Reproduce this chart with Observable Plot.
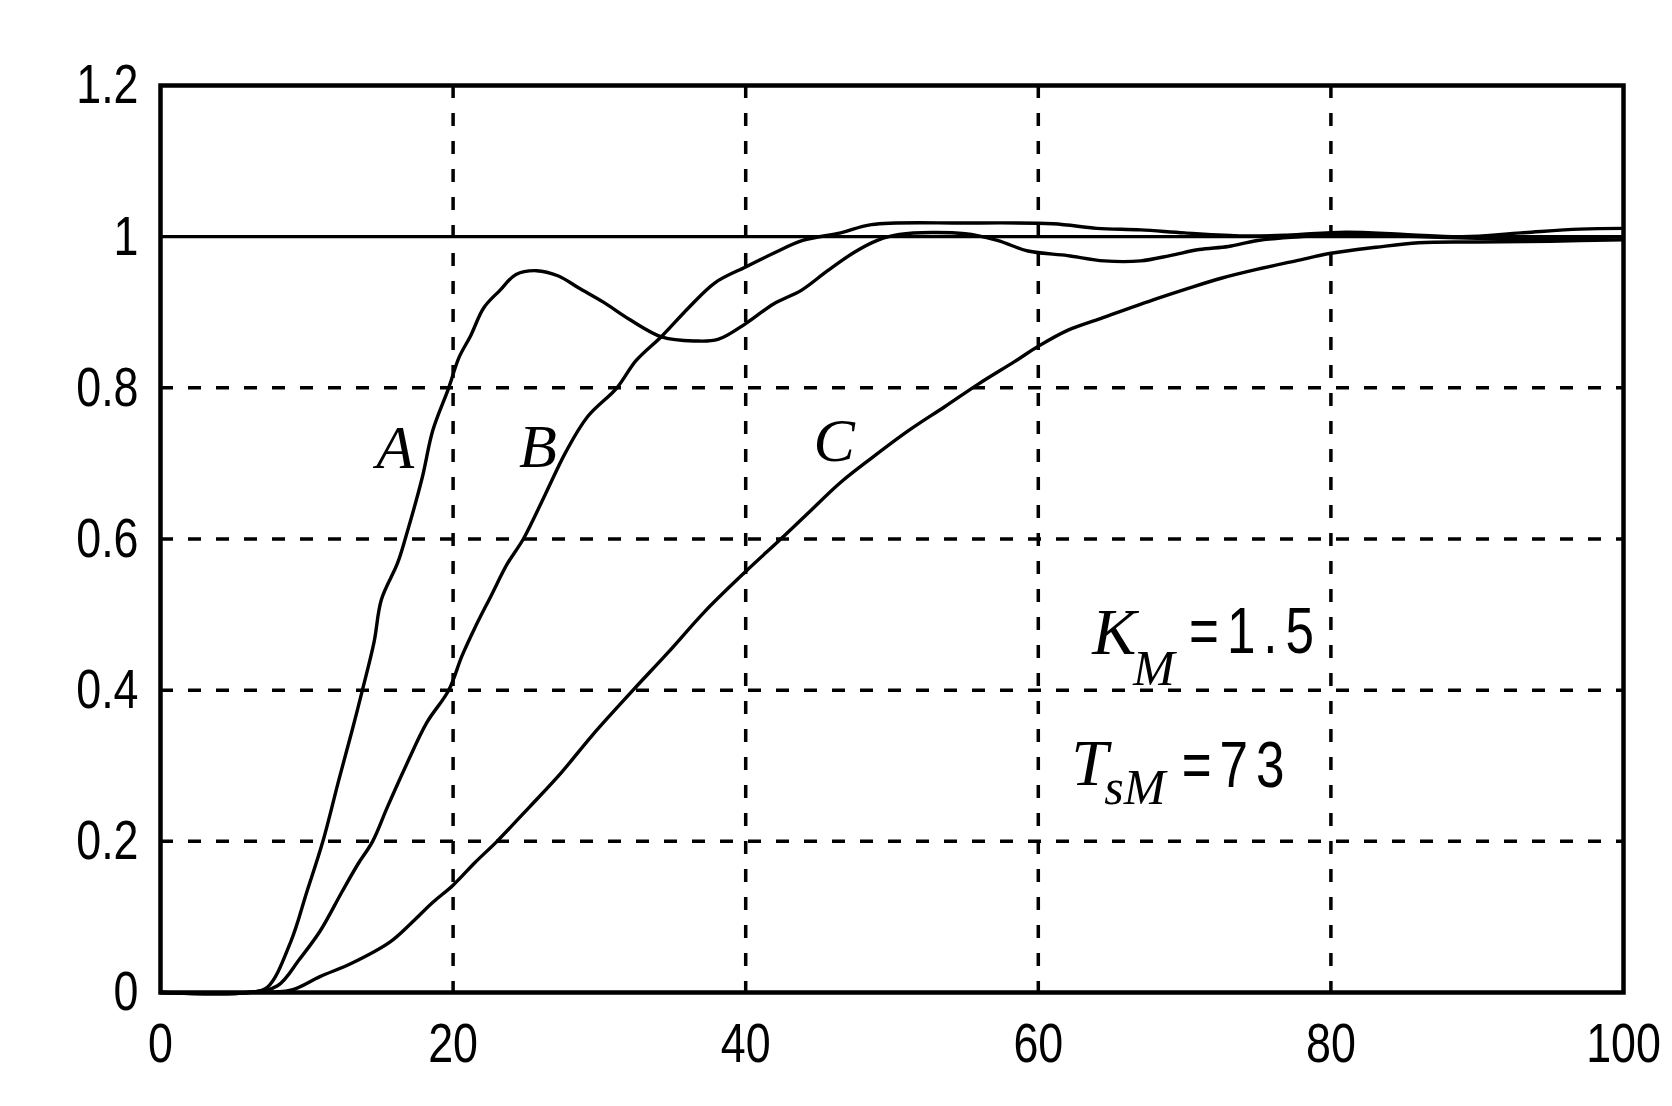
<!DOCTYPE html>
<html>
<head>
<meta charset="utf-8">
<script src="https://cdn.jsdelivr.net/npm/d3@7"></script>
<script src="https://cdn.jsdelivr.net/npm/@observablehq/plot@0.6"></script>
<style>
  html, body { margin: 0; padding: 0; background: #fff; }
  #chart { width: 1672px; height: 1106px; }
</style>
</head>
<body>
<div id="chart"></div>
<script>
// ---- data ----
const xTicks = [0, 20, 40, 60, 80, 100];
const yTicks = [0, 0.2, 0.4, 0.6, 0.8, 1, 1.2];
const yTickLabels = ["0", "0.2", "0.4", "0.6", "0.8", "1", "1.2"];
const gridXValues = [20, 40, 60, 80];
const gridYValues = [0.2, 0.4, 0.6, 0.8];
const setpoint = [1];

const xA = [0, 6, 7.3, 8.9, 10.0, 11.1, 12.2, 13.1, 13.8, 14.6, 15.1, 16.2, 16.8, 17.9, 18.6, 19.7, 20.4, 21.2, 22.1, 23.2, 24.3, 25.7, 27.2, 28.6, 30.3, 32.1, 34.3, 36.5, 38.1, 40, 41.9, 43.8, 45.6, 47.4, 49.0, 50.5, 55, 57.2, 59.3, 62, 64.5, 67, 69, 71, 73, 75, 78, 82, 86, 90, 95, 100];
const yA = [0, 0, 0.007, 0.067, 0.133, 0.2, 0.282, 0.347, 0.4, 0.464, 0.52, 0.568, 0.605, 0.682, 0.743, 0.8, 0.84, 0.869, 0.906, 0.929, 0.95, 0.955, 0.948, 0.932, 0.913, 0.89, 0.867, 0.862, 0.864, 0.885, 0.911, 0.929, 0.955, 0.979, 0.995, 1.003, 1.004, 0.995, 0.981, 0.975, 0.968, 0.968, 0.975, 0.983, 0.987, 0.995, 1.0, 1.003, 1.0, 0.998, 0.997, 1.0];

const xB = [0, 6, 8.0, 9.5, 10.9, 12.4, 13.5, 14.5, 15.5, 16.8, 18.2, 19.7, 20.6, 21.5, 22.6, 23.7, 24.8, 26.3, 27.7, 29.2, 31.2, 32.5, 34.3, 36.1, 37.9, 40, 41.9, 43.9, 46.5, 48.6, 55, 61, 64, 67, 70, 74, 77, 81, 85, 89, 93, 97, 100];
const yB = [0, 0, 0.009, 0.044, 0.081, 0.133, 0.17, 0.2, 0.245, 0.301, 0.357, 0.4, 0.445, 0.483, 0.525, 0.567, 0.6, 0.659, 0.715, 0.762, 0.8, 0.836, 0.869, 0.906, 0.939, 0.96, 0.978, 0.995, 1.005, 1.016, 1.018, 1.017, 1.011, 1.009, 1.005, 1.001, 1.002, 1.006, 1.003, 1.0, 1.005, 1.01, 1.011];

const xC = [0, 6, 8.9, 10.9, 13.1, 15.7, 17.1, 18.6, 20, 21.5, 23.0, 25.2, 27.4, 29.5, 32.3, 34.7, 37.2, 40, 42.4, 44.2, 46.5, 48.6, 51.1, 53.6, 55.9, 58.4, 60, 62, 64.3, 68.1, 70.3, 72.5, 75, 77.6, 80, 83.1, 86, 90, 95, 100];
const yC = [0, 0, 0.003, 0.021, 0.039, 0.067, 0.091, 0.119, 0.142, 0.172, 0.2, 0.245, 0.291, 0.34, 0.4, 0.45, 0.504, 0.557, 0.6, 0.633, 0.675, 0.707, 0.743, 0.775, 0.805, 0.835, 0.855, 0.876, 0.892, 0.918, 0.932, 0.945, 0.957, 0.968, 0.978, 0.986, 0.992, 0.993, 0.994, 0.996];

// curve labels (data coordinates)
const curveLabels = ["A", "B", "C"];
const curveLabelX = [16.05, 25.8, 46.05];
const curveLabelY = [0.72, 0.722, 0.73];

// parameter annotations (data coordinates)
const paramMain = ["K", "T"];
const paramMainX = [65.2, 63.5];
const paramMainY = [0.476, 0.303];
const paramSub = ["M", "sM"];
const paramSubX = [67.9, 66.6];
const paramSubY = [0.428, 0.27];
const paramValue = ["=1.5", "=73"];
const paramValueX = [70.3, 69.8];   // left edge of the value text
const paramValueY = [0.476, 0.299];

// ---- build tables ----
const zipXY = (xs, ys) => xs.map((x, i) => ({x, y: ys[i]}));
const rowsA = zipXY(xA, yA);
const rowsB = zipXY(xB, yB);
const rowsC = zipXY(xC, yC);
const lab = (t, xs, ys) => t.map((s, i) => ({s, x: xs[i], y: ys[i]}));

const numFont = "'Liberation Sans', Arial, sans-serif";
const itFont = "'Liberation Serif', 'DejaVu Serif', serif";

const lineOpts = {x: "x", y: "y", stroke: "black", strokeWidth: 3.4, curve: "catmull-rom"};
const gridOpts = {stroke: "black", strokeOpacity: 1, strokeWidth: 3.5, strokeDasharray: "13,15"};

const chart = Plot.plot({
  width: 1672,
  height: 1106,
  marginLeft: 160,
  marginRight: 49,
  marginTop: 85,
  marginBottom: 114,
  x: {domain: [0, 100], label: null},
  y: {domain: [0, 1.2], label: null},
  style: {background: "white", color: "black", fontFamily: numFont, fontSize: "56px"},
  marks: [
    Plot.gridX(gridXValues, gridOpts),
    Plot.gridY(gridYValues, gridOpts),
    Plot.ruleY(setpoint, {stroke: "black", strokeWidth: 3.4}),
    Plot.line(rowsA, lineOpts),
    Plot.line(rowsB, lineOpts),
    Plot.line(rowsC, lineOpts),
    Plot.frame({stroke: "black", strokeWidth: 4.5}),
    Plot.axisX(xTicks, {label: null, tickSize: 0, tickPadding: 30, fontSize: 56, fontFamily: numFont, tickFormat: d => String(d)}),
    Plot.axisY(yTicks, {label: null, tickSize: 0, tickPadding: 22, fontSize: 56, fontFamily: numFont, tickFormat: d => yTickLabels[yTicks.indexOf(d)]}),
    Plot.text(lab(curveLabels, curveLabelX, curveLabelY), {x: "x", y: "y", text: "s", fontFamily: itFont, fontStyle: "italic", fontSize: 62, fill: "black", textAnchor: "middle", lineAnchor: "middle"}),
    Plot.text(lab(paramMain, paramMainX, paramMainY), {x: "x", y: "y", text: "s", fontFamily: itFont, fontStyle: "italic", fontSize: 66, fill: "black", textAnchor: "middle", lineAnchor: "middle"}),
    Plot.text(lab(paramSub, paramSubX, paramSubY), {x: "x", y: "y", text: "s", fontFamily: itFont, fontStyle: "italic", fontSize: 50, fill: "black", textAnchor: "middle", lineAnchor: "middle"}),
    Plot.text(lab(paramValue, paramValueX, paramValueY), {x: "x", y: "y", text: "s", fontFamily: numFont, fontSize: 64, fill: "black", textAnchor: "start", lineAnchor: "middle", className: "narrow"})
  ]
});
document.getElementById("chart").appendChild(chart);

// narrow the numeric glyphs horizontally, like the reference's condensed digits
d3.select(chart)
  .selectAll("g[aria-label='x-axis tick label'] text, g[aria-label='y-axis tick label'] text, g.narrow text")
  .each(function () {
    const t = this.getAttribute("transform") || "";
    this.setAttribute("transform", t + " scale(0.8,1)");
  });
d3.select(chart).selectAll("g.narrow text").style("letter-spacing", "10px");
</script>
</body>
</html>
